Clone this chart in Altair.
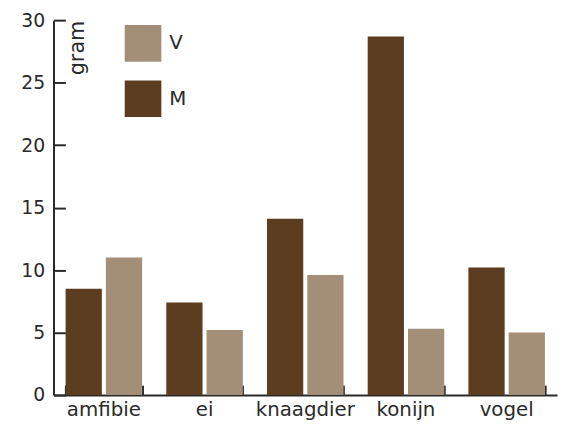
import altair as alt
import pandas as pd

categories = ["amfibie", "ei", "knaagdier", "konijn", "vogel"]
m_values = [8.5, 7.4, 14.1, 28.7, 10.2]
v_values = [11.0, 5.2, 9.6, 5.3, 5.0]
y_ticks = [0, 5, 10, 15, 20, 25, 30]

rows = []
for c, m, v in zip(categories, m_values, v_values):
    rows.append({"cat": c, "sex": "M", "value": m})
    rows.append({"cat": c, "sex": "V", "value": v})
df = pd.DataFrame(rows)

FONT = "DejaVu Sans"
AX = "#2a2a2a"

xscale = alt.Scale(paddingInner=0.24, paddingOuter=0.12)
yscale = alt.Scale(domain=[0, 30], nice=False)
offscale = alt.Scale(paddingInner=0.1)

bars = alt.Chart(df).mark_bar().encode(
    x=alt.X("cat:N", sort=categories, scale=xscale,
            axis=alt.Axis(title=None, labelAngle=0, ticks=False, domainColor=AX, domainWidth=2,
                          labelFont=FONT, labelFontSize=20, labelColor=AX, labelPadding=5)),
    xOffset=alt.XOffset("sex:N", sort=["M", "V"], scale=offscale),
    y=alt.Y("value:Q", scale=yscale,
            axis=alt.Axis(values=y_ticks, ticks=False, grid=False, domainColor=AX, domainWidth=2,
                          labelFont=FONT, labelFontSize=19, labelColor=AX, labelPadding=9,
                          title="gram", titleFont=FONT, titleFontSize=21, titleFontWeight="normal",
                          titleColor=AX, titleAngle=270, titleAlign="right", titleBaseline="alphabetic",
                          titleX=30, titleY=0)),
    color=alt.Color("sex:N", scale=alt.Scale(domain=["V", "M"], range=["#A38F77", "#5C3D20"]),
                    legend=alt.Legend(title=None, orient="none", legendX=72, legendY=5,
                                      symbolType="square", symbolSize=1369, symbolStrokeWidth=0,
                                      symbolOpacity=1, labelFont=FONT, labelFontSize=20,
                                      labelColor=AX, labelOffset=8, rowPadding=19, padding=0)),
)

ticks = alt.Chart(df).mark_bar(opacity=0).encode(
    x=alt.X("cat:N", sort=categories, scale=xscale,
            axis=alt.Axis(orient="bottom", offset=-10, tickSize=10, tickWidth=2, tickColor=AX,
                          tickBand="extent", labels=False, domain=False, title=None)),
    xOffset=alt.XOffset("sex:N", sort=["M", "V"], scale=offscale),
    y=alt.Y("value:Q", scale=yscale,
            axis=alt.Axis(orient="left", offset=-12, tickSize=12, tickWidth=2, tickColor=AX,
                          values=y_ticks, labels=False, domain=False, title=None, grid=False)),
)

chart = alt.layer(bars, ticks).resolve_axis(x="independent", y="independent").properties(
    width=509, height=379,
    autosize=alt.AutoSizeParams(type="none"),
    padding={"left": 46, "top": 10, "right": 2, "bottom": 30},
).configure_view(stroke=None)

chart.save("out.html", embed_options={"renderer": "svg", "actions": False})
